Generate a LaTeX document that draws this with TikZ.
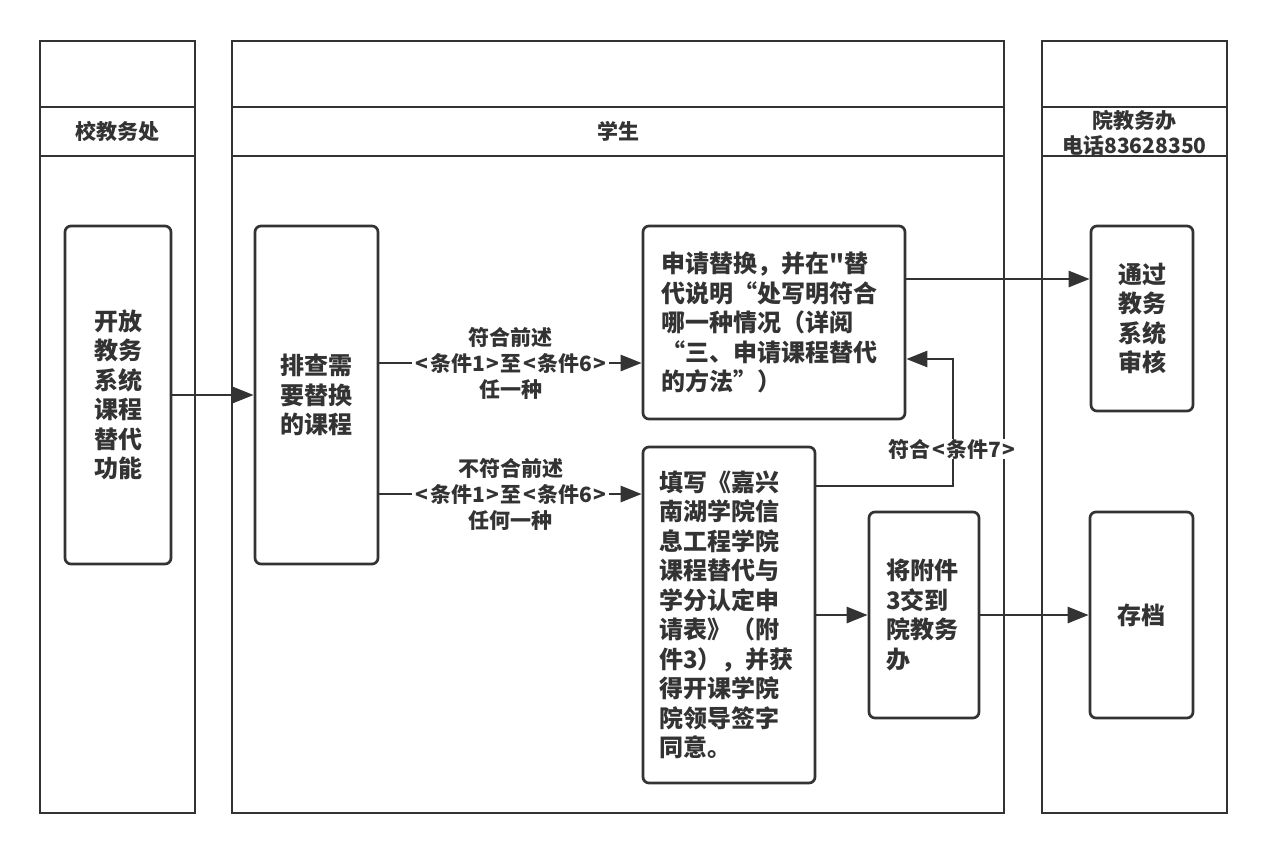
\documentclass[tikz,border=0pt]{standalone}
\usepackage{fontspec}
\newfontfamily\cjkfnt{Noto Sans CJK SC}
\usetikzlibrary{arrows.meta,calc}
\definecolor{ink}{HTML}{333333}
\newcommand{\boxfnt}{\cjkfnt\fontsize{24}{29.5}\selectfont\bfseries}
\newcommand{\lblfnt}{\cjkfnt\fontsize{21}{26}\selectfont\bfseries}
\newcommand{\hdrfnt}{\cjkfnt\fontsize{21}{25}\selectfont\bfseries}
\newcommand{\ab}[1]{\hspace{1.5pt}#1\hspace{1.5pt}}
\begin{document}
\begin{tikzpicture}[x=1pt,y=-1pt,
  lane/.style={draw=ink, line width=2.7pt},
  box/.style={draw=ink, line width=2.7pt, rounded corners=6pt, inner sep=0pt, font=\boxfnt, text=ink, align=center, fill=white},
  lbl/.style={fill=white, inner xsep=2pt, inner ysep=0pt, font=\lblfnt, text=ink, align=center},
  hdr/.style={inner sep=0pt, font=\hdrfnt, text=ink, align=center},
  conn/.style={draw=ink, line width=2.7pt, -{Triangle[length=21pt,width=16pt]}},
  wire/.style={draw=ink, line width=2.7pt}]
\useasboundingbox (0,0) rectangle (1268,855);
\fill[white] (0,0) rectangle (1268,855);
% lanes
\draw[lane] (40,41) rectangle (195,813);
\draw[lane] (40,107) -- (195,107);
\draw[lane] (40,156) -- (195,156);
\draw[lane] (232,41) rectangle (1004,813);
\draw[lane] (232,107) -- (1004,107);
\draw[lane] (232,156) -- (1004,156);
\draw[lane] (1042,41) rectangle (1227,813);
\draw[lane] (1042,107) -- (1227,107);
\draw[lane] (1042,156) -- (1227,156);
\node[hdr] (h1) at (117.5,131.5) {校教务处};
\node[hdr] (h2) at (618,131.5) {学生};
\node[hdr] (h3) at (1134.5,132.5) {院教务办\\电话83628350};
% boxes
\node[box, minimum width=106pt, minimum height=338pt] (o) at (118,395)
  {开放\\教务\\系统\\课程\\替代\\功能};
\node[box, minimum width=123pt, minimum height=338pt] (p) at (316.5,395)
  {排查需\\要替换\\的课程};
\node[box, minimum width=262pt, minimum height=193pt, text width=226pt, align=left] (a) at (774,322.5)
  {申请替换，并在"替\\代说明“处写明符合\\哪一种情况（详阅\\“三、申请课程替代\\的方法”）};
\node[box, minimum width=102pt, minimum height=185pt] (t) at (1142,318.5)
  {通过\\教务\\系统\\审核};
\node[box, minimum width=172pt, minimum height=336pt, text width=140pt, align=left] (f) at (729,615)
  {填写《嘉兴\\南湖学院信\\息工程学院\\课程替代与\\学分认定申\\请表》（附\\件3），并获\\得开课学院\\院领导签字\\同意。};
\node[box, minimum width=110pt, minimum height=206pt, text width=76pt, align=left] (j) at (924,615)
  {将附件\\3交到\\院教务\\办};
\node[box, minimum width=103pt, minimum height=206pt] (c) at (1141.5,615)
  {存档};
% connectors
\coordinate (k) at (953,0);
\draw[conn] (o.east) -- (p.west);
\draw[conn] (p.east |- 0,363) -- node[lbl] (l1) {符合前述\\\ab{<}条件1\ab{>}至\ab{<}条件6\ab{>}\\任一种} (a.west |- 0,363);
\draw[conn] (p.east |- 0,494) -- node[lbl] (l2) {不符合前述\\\ab{<}条件1\ab{>}至\ab{<}条件6\ab{>}\\任何一种} (f.west |- 0,494);
\draw[conn] (a.east |- 0,279) -- (t.west |- 0,279);
\draw[conn] (f.east |- 0,486) -| (k |- 0,359) -- (a.east |- 0,359);
\node[lbl] (l3) at (953,449) {符合\ab{<}条件7\ab{>}};
\draw[conn] (f.east) -- (j.west);
\draw[conn] (j.east) -- (c.west);
\end{tikzpicture}
\end{document}
